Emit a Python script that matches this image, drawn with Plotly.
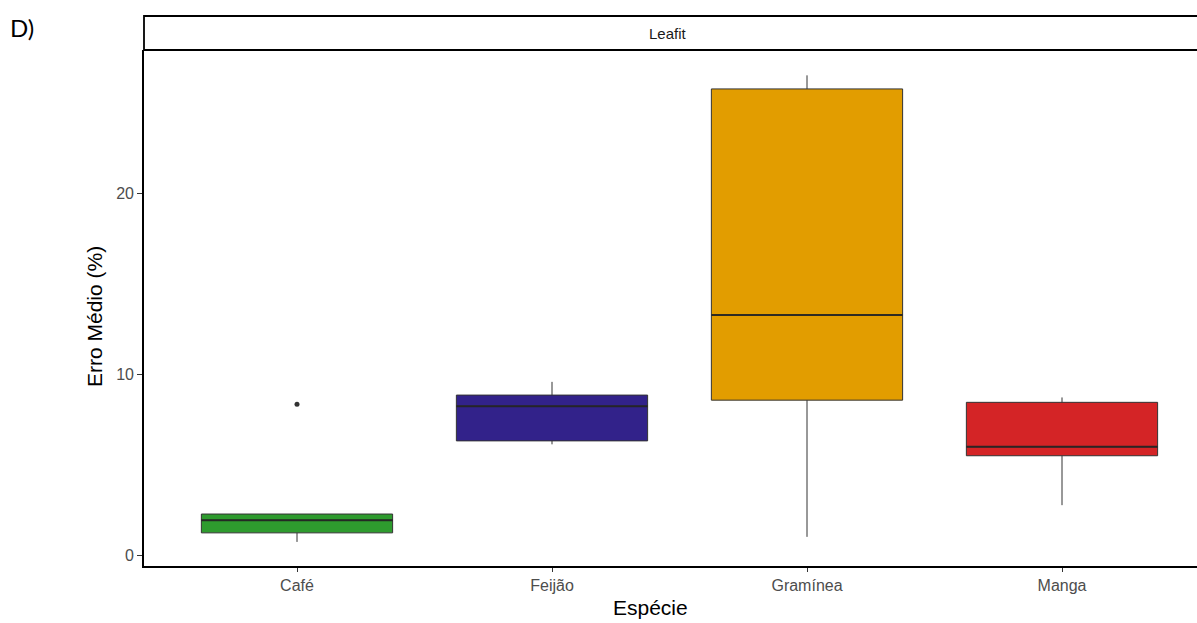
import plotly.graph_objects as go

# Summary statistics per species (Erro Médio, %)
species = ["Café", "Feijão", "Gramínea", "Manga"]
lower_whisker = [0.73, 6.12, 1.01, 2.76]
q1 = [1.23, 6.31, 8.56, 5.49]
median = [1.93, 8.23, 13.26, 5.98]
q3 = [2.27, 8.84, 25.75, 8.44]
upper_whisker = [2.27, 9.57, 26.5, 8.71]
outlier_species = ["Café"]
outlier_values = [8.34]
fill_colors = ["#2E9B2E", "#32228A", "#E29D00", "#D42426"]

panel_title = "Leafit"
x_title = "Espécie"
y_title = "Erro Médio (%)"
y_ticks = [0, 10, 20]

W, H = 1197, 623
ML, MR, MT, MB = 144, 0, 50, 57
BOX_W = 0.75

fig = go.Figure()
pos = {s: i for i, s in enumerate(species)}

for i, s in enumerate(species):
    fig.add_trace(go.Box(
        x=[i], q1=[q1[i]], median=[median[i]], q3=[q3[i]],
        lowerfence=[lower_whisker[i]], upperfence=[upper_whisker[i]],
        width=BOX_W, whiskerwidth=0,
        fillcolor=fill_colors[i],
        line=dict(color="#333333", width=1),
        boxpoints=False, showlegend=False, name=s,
    ))
    # thicker median segment, as in ggplot's boxplot
    fig.add_trace(go.Scatter(
        x=[i - BOX_W / 2, i + BOX_W / 2], y=[median[i], median[i]],
        mode="lines", line=dict(color="rgba(35,35,35,0.9)", width=2),
        showlegend=False, hoverinfo="skip",
    ))

fig.add_trace(go.Scatter(
    x=[pos[s] for s in outlier_species], y=outlier_values,
    mode="markers", marker=dict(color="#333333", size=5),
    showlegend=False,
))

plot_w = W - ML - MR
plot_h = H - MT - MB
strip_h = 34


def px_x(px):
    return (px - ML) / plot_w


def px_y(py):
    return (H - MB - py) / plot_h


fig.update_layout(
    width=W, height=H,
    margin=dict(l=ML, r=MR, t=MT, b=MB),
    paper_bgcolor="white", plot_bgcolor="white",
    font=dict(family="Liberation Sans, Arial, sans-serif"),
    xaxis=dict(
        range=[-0.6, -0.6 + plot_w / 255.0],
        tickmode="array", tickvals=list(range(len(species))), ticktext=species,
        showline=True, linecolor="black", linewidth=1.6,
        ticks="outside", ticklen=4, tickcolor="#333333", tickwidth=1.2,
        tickfont=dict(size=16, color="#4D4D4D"),
        showgrid=False, zeroline=False,
    ),
    yaxis=dict(
        range=[-0.6, 27.9],
        tickmode="array", tickvals=y_ticks,
        showline=True, linecolor="black", linewidth=1.6,
        ticks="outside", ticklen=5, tickcolor="#333333", tickwidth=1.2,
        tickfont=dict(size=16, color="#4D4D4D"),
        showgrid=False, zeroline=False,
    ),
    shapes=[dict(
        type="rect", xref="paper", yref="paper",
        x0=0, x1=1.05, y0=1, y1=1 + strip_h / plot_h,
        line=dict(color="black", width=1.8), fillcolor="white", layer="above",
    )],
    annotations=[
        dict(text=panel_title, xref="paper", yref="paper",
             x=px_x(668), y=px_y(34),
             xanchor="center", yanchor="middle", showarrow=False,
             font=dict(size=15, color="#1A1A1A")),
        dict(text="D)", xref="paper", yref="paper",
             x=px_x(8), y=px_y(28),
             xanchor="left", yanchor="middle", showarrow=False,
             font=dict(size=24, color="black", family="Lato, Noto Sans, sans-serif")),
        dict(text=x_title, xref="paper", yref="paper",
             x=px_x(650), y=px_y(607),
             xanchor="center", yanchor="middle", showarrow=False,
             font=dict(size=21, color="black")),
        dict(text=y_title, xref="paper", yref="paper",
             x=px_x(94), y=px_y(317), textangle=-90,
             xanchor="center", yanchor="middle", showarrow=False,
             font=dict(size=21, color="black")),
    ],
)

fig.write_html("out.html")
